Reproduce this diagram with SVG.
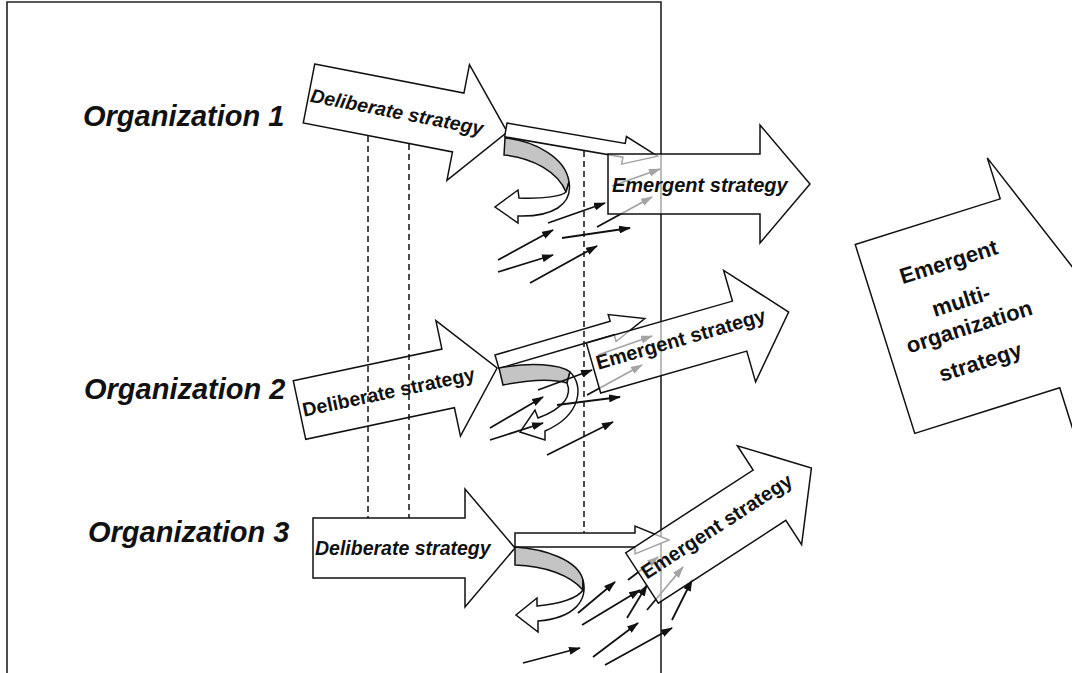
<svg xmlns="http://www.w3.org/2000/svg" width="1072" height="673" viewBox="0 0 1072 673">
  <style>
    .blk { fill: #fff; stroke: #111; stroke-width: 1.5; stroke-linejoin: miter; }
    .see { fill: #fff; fill-opacity: 0.62; stroke: #111; stroke-width: 1.5; }
    .band { fill: #c4c4c4; stroke: #111; stroke-width: 1.5; }
    .frm { fill: none; stroke: #222; stroke-width: 1.6; }
    .guide { stroke: #111; stroke-width: 1.5; stroke-dasharray: 6 4; fill: none; }
    .flow { stroke: #111; stroke-width: 1.8; fill: none; marker-end: url(#tip); }
    .org { font-family: "Liberation Sans", Arial, sans-serif; font-weight: bold; font-style: italic; font-size: 29px; fill: #111; }
    .lab { font-family: "Liberation Sans", Arial, sans-serif; font-weight: bold; font-size: 19.5px; fill: #111; }
    .it { font-style: italic; }
    .big { font-family: "Liberation Sans", Arial, sans-serif; font-weight: bold; font-size: 22px; fill: #111; text-anchor: middle; }
  </style>
  <defs>
    <!-- block arrow: tail centre at origin, pointing along +x -->
    <path id="block" d="M0,-30 H152 V-59 L202,0 L152,59 V30 H0 Z"/>
    <path id="blockNarrow" d="M0,-26 H152 V-58 L203,0 L152,58 V26 H0 Z"/>
    <!-- thin hand-off arrow: top-left corner at origin -->
    <path id="thin" d="M0,0 H120 V-7 L154,7 L120,21 V14 H0 Z"/>
    <marker id="tip" viewBox="0 0 12 8" refX="11" refY="4" markerWidth="12" markerHeight="8" markerUnits="userSpaceOnUse" orient="auto">
      <path d="M0,0 L12,4 L0,8 Z" fill="#111"/>
    </marker>
  </defs>

  <!-- frame of the single-organization area -->
  <g id="frame">
    <path class="frm" d="M7,673 V2 H661 V673"/>
  </g>

  <!-- Organization 1 -->
  <g id="org1">
    <text class="org" x="83" y="126">Organization 1</text>
    <g transform="translate(309,93.5) rotate(11)">
      <use href="#block" class="blk"/>
      <text class="lab it" x="2" y="8">Deliberate strategy</text>
    </g>
    <use href="#thin" class="blk" transform="translate(507,123) rotate(9.8)"/>
    <path class="band" d="M505,138 C535,141 566,158 569,182 L566,192 C558,172 533,158 504,155 Z"/>
    <path class="blk" d="M569,182 C573,205 552,217 518,216 L518,223 L495,207 L518,190 L519,198 C545,199 562,196 566,192 Z"/>
  </g>

  <!-- Organization 2 -->
  <g id="org2">
    <text class="org" x="84" y="399">Organization 2</text>
    <g transform="translate(299.5,410) rotate(-12)">
      <use href="#block" class="blk"/>
      <text class="lab" x="3" y="7.5">Deliberate strategy</text>
    </g>
    <use href="#thin" class="blk" transform="translate(495,355) rotate(-16.3)"/>
    <path class="band" d="M499,368 C530,362 560,364 570,372 L567,383 C550,378 528,380 503,385 Z"/>
    <path class="blk" d="M570,372 C584,385 582,415 545,431 L545,440 L520,432 L535,410 L538,418 C565,408 572,395 567,383 Z"/>
  </g>

  <!-- Organization 3 -->
  <g id="org3">
    <text class="org" x="88" y="542">Organization 3</text>
    <g transform="translate(313,548)">
      <use href="#block" class="blk"/>
      <text class="lab it" x="2" y="7">Deliberate strategy</text>
    </g>
    <use href="#thin" class="blk" transform="translate(515,533)"/>
    <path class="band" d="M515,547 C545,549 578,560 583,580 L583,590 C570,575 545,566 515,565 Z"/>
    <path class="blk" d="M583,580 C588,600 575,618 538,621 L538,632 L516,615 L537,598 L537,606 C560,604 578,598 583,590 Z"/>
  </g>

  <!-- dashed guides -->
  <g id="guides">
    <line class="guide" x1="368" y1="136" x2="368" y2="518"/>
    <line class="guide" x1="409" y1="144" x2="409" y2="518"/>
    <line class="guide" x1="584" y1="151" x2="584" y2="533"/>
  </g>

  <!-- small emergent influences -->
  <g id="connectors">
    <line class="flow" x1="548" y1="223" x2="605" y2="203"/>
    <line class="flow" x1="498" y1="260" x2="553" y2="230"/>
    <line class="flow" x1="562" y1="238" x2="630" y2="228"/>
    <line class="flow" x1="498" y1="272" x2="553" y2="255"/>
    <line class="flow" x1="530" y1="283" x2="597" y2="246"/>
    <line class="flow" x1="597" y1="227" x2="652" y2="197"/>
    <line class="flow" x1="612" y1="186" x2="660" y2="169"/>

    <line class="flow" x1="538" y1="390" x2="592" y2="370"/>
    <line class="flow" x1="490" y1="428" x2="543" y2="397"/>
    <line class="flow" x1="490" y1="440" x2="543" y2="423"/>
    <line class="flow" x1="547" y1="455" x2="613" y2="422"/>
    <line class="flow" x1="557" y1="405" x2="620" y2="397"/>
    <line class="flow" x1="587" y1="395" x2="642" y2="365"/>
    <line class="flow" x1="598" y1="355" x2="652" y2="336"/>

    <line class="flow" x1="578" y1="613" x2="615" y2="582"/>
    <line class="flow" x1="582" y1="625" x2="640" y2="590"/>
    <line class="flow" x1="523" y1="663" x2="580" y2="648"/>
    <line class="flow" x1="593" y1="657" x2="638" y2="623"/>
    <line class="flow" x1="605" y1="665" x2="672" y2="628"/>
    <line class="flow" x1="627" y1="618" x2="647" y2="585"/>
    <line class="flow" x1="628" y1="580" x2="658" y2="557"/>
    <line class="flow" x1="647" y1="610" x2="683" y2="567"/>
    <line class="flow" x1="672" y1="620" x2="692" y2="580"/>
  </g>

  <!-- emergent strategies (see-through) -->
  <g id="emergent1" transform="translate(608,184)">
    <use href="#block" class="see"/>
    <text class="lab it" x="4" y="8" style="font-size:20px">Emergent strategy</text>
  </g>
  <g id="emergent2" transform="translate(593.5,368) rotate(-16)">
    <use href="#blockNarrow" class="see"/>
    <text class="lab" x="4" y="3" style="font-size:20px">Emergent strategy</text>
  </g>
  <g id="emergent3" transform="translate(642,578) rotate(-33)">
    <use href="#block" class="see"/>
    <text class="lab" x="3" y="4" style="font-size:20px">Emergent strategy</text>
  </g>

  <!-- multi-organization strategy -->
  <g id="multi" transform="translate(885,339) rotate(-17.5)">
    <path class="blk" d="M0,-99 H152 V-142 L205,0 L152,142 V99 H0 Z"/>
    <text class="big" x="84" y="-47">Emergent</text>
    <text class="big" x="84" y="-6">multi-</text>
    <text class="big" x="84" y="21">organization</text>
    <text class="big" x="84" y="58">strategy</text>
  </g>
</svg>
